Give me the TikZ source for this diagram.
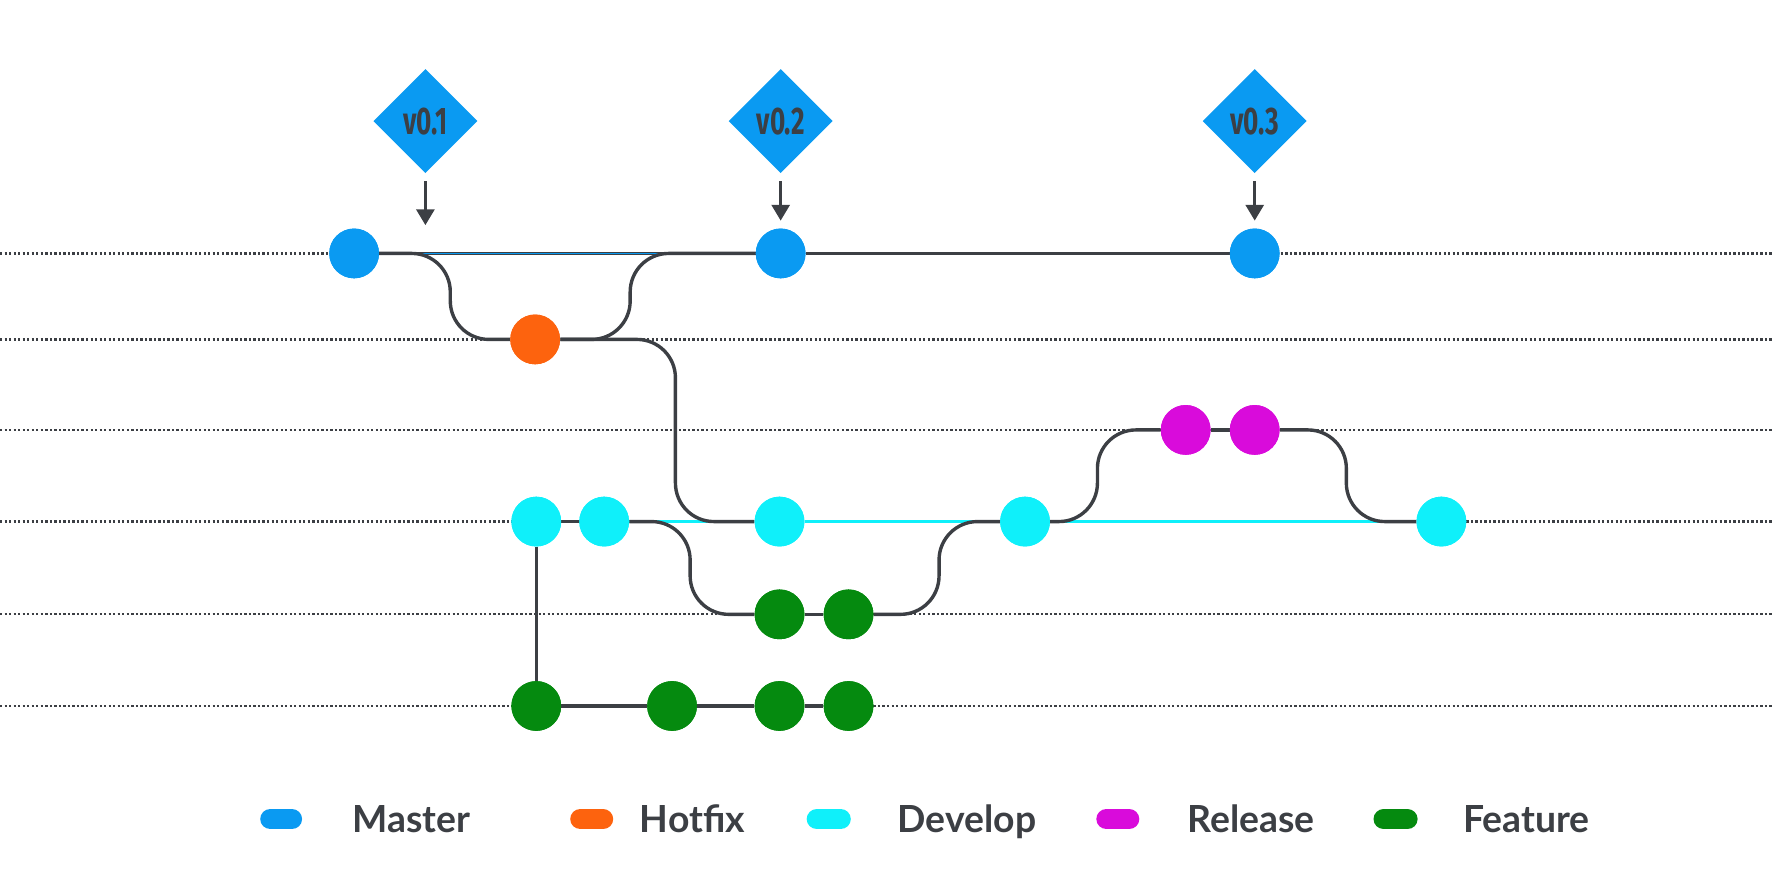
\documentclass[tikz,border=0pt]{standalone}
\usepackage{fontspec}
\setmainfont{Lato}
\newfontfamily\tagfont{Fira Sans}
\usetikzlibrary{shapes.geometric,arrows.meta}
\definecolor{cblue}{HTML}{0A9AF2}
\definecolor{corange}{HTML}{FD630E}
\definecolor{ccyan}{HTML}{0FF0FA}
\definecolor{cmag}{HTML}{D90BDB}
\definecolor{cgreen}{HTML}{058A0F}
\definecolor{cdark}{HTML}{3C3F44}
\begin{document}
\begin{tikzpicture}[x=1pt,y=-1pt,
  commit/.style={circle,minimum size=44pt,inner sep=0pt},
  conn/.style={draw=cdark,line width=3pt,rounded corners=34pt},
  lane/.style={draw=cdark,line width=2pt,dotted},
  tagbox/.style={diamond,fill=cblue,minimum size=92pt,inner sep=0pt,font=\tagfont\bfseries\fontsize{34}{36}\selectfont,text=cdark},
  pill/.style={draw=#1,line width=18pt,line cap=round},
  legtext/.style={anchor=base west,font=\bfseries\fontsize{33}{36}\selectfont,text=cdark}]
\useasboundingbox (0,0) rectangle (1568,784);
\foreach \y in {224,300,380,461,543,624} \draw[lane] (0,\y) -- (1568,\y);
% commits
\node[commit,fill=cblue] (m1) at (313,224) {};
\node[commit,fill=cblue] (m2) at (690,224) {};
\node[commit,fill=cblue] (m3) at (1109,224) {};
\node[commit,fill=corange] (h1) at (473,300) {};
\node[commit,fill=cmag] (r1) at (1048,380) {};
\node[commit,fill=cmag] (r2) at (1109,380) {};
\node[commit,fill=ccyan] (d1) at (474,461) {};
\node[commit,fill=ccyan] (d2) at (534,461) {};
\node[commit,fill=ccyan] (d3) at (689,461) {};
\node[commit,fill=ccyan] (d4) at (906,461) {};
\node[commit,fill=ccyan] (d5) at (1274,461) {};
\node[commit,fill=cgreen] (f1) at (689,543) {};
\node[commit,fill=cgreen] (f2) at (750,543) {};
\node[commit,fill=cgreen] (g1) at (474,624) {};
\node[commit,fill=cgreen] (g2) at (594,624) {};
\node[commit,fill=cgreen] (g3) at (689,624) {};
\node[commit,fill=cgreen] (g4) at (750,624) {};
% connectors
\draw[conn] (m1) -- (m2); \draw[conn] (m2) -- (m3);
\draw[cblue,line width=1.2pt] (m1.east) -- (m2.west);
\draw[ccyan,line width=3pt] (d2) -- (d3); \draw[ccyan,line width=3pt] (d3) -- (d4); \draw[ccyan,line width=3pt] (d4) -- (d5);
\draw[conn] (m1.east) -| (398,300) -- (h1.west);
\draw[conn] (h1.east) -| (557,224) -- (m2.west);
\draw[conn] (h1.east) -| (597,461) -- (d3.west);
\draw[conn] (d1) -- (d2);
\draw[conn] (d2.east) -| (610,543) -- (f1.west);
\draw[conn] (f1) -- (f2);
\draw[conn] (f2.east) -| (830,461) -- (d4.west);
\draw[conn] (d4.east) -| (970,380) -- (r1.west);
\draw[conn] (r1) -- (r2);
\draw[conn] (r2.east) -| (1190,461) -- (d5.west);
\draw[conn] (d1) -- (g1);
\draw[conn] (g1) -- (g2); \draw[conn] (g2) -- (g3); \draw[conn] (g3) -- (g4);
% redraw commits on top
\foreach \n/\c in {m1/cblue,m2/cblue,m3/cblue,h1/corange,r1/cmag,r2/cmag,d1/ccyan,d2/ccyan,d3/ccyan,d4/ccyan,d5/ccyan,f1/cgreen,f2/cgreen,g1/cgreen,g2/cgreen,g3/cgreen,g4/cgreen}
  \fill[\c] (\n) circle (22pt);
% tags
\node[tagbox] (t1) at (376,107) {\scalebox{0.68}[1]{v0.1}};
\node[tagbox] (t2) at (690,107) {\scalebox{0.68}[1]{v0.2}};
\node[tagbox] (t3) at (1109,107) {\scalebox{0.68}[1]{v0.3}};
\coordinate (a1) at (376,199); \coordinate (a2) at (690,195); \coordinate (a3) at (1109,195);
\foreach \i in {1,2,3}
  \draw[cdark,line width=2.5pt,-{Triangle[length=14pt,width=16pt]}] ([yshift=-7pt]t\i.south) -- (a\i);
% legend
\coordinate (p1a) at (239,724); \coordinate (p1b) at (258,724);
\draw[pill=cblue] (p1a) -- (p1b);
\node[legtext] (l1) at (308,736) {Master};
\coordinate (p2a) at (513,724); \coordinate (p2b) at (533,724);
\draw[pill=corange] (p2a) -- (p2b);
\node[legtext] (l2) at (562,736) {Hotfix};
\coordinate (p3a) at (722,724); \coordinate (p3b) at (743,724);
\draw[pill=ccyan] (p3a) -- (p3b);
\node[legtext] (l3) at (790,736) {Develop};
\coordinate (p4a) at (978,724); \coordinate (p4b) at (998,724);
\draw[pill=cmag] (p4a) -- (p4b);
\node[legtext] (l4) at (1046,736) {Release};
\coordinate (p5a) at (1223,724); \coordinate (p5b) at (1244,724);
\draw[pill=cgreen] (p5a) -- (p5b);
\node[legtext] (l5) at (1290,736) {Feature};
\end{tikzpicture}
\end{document}
